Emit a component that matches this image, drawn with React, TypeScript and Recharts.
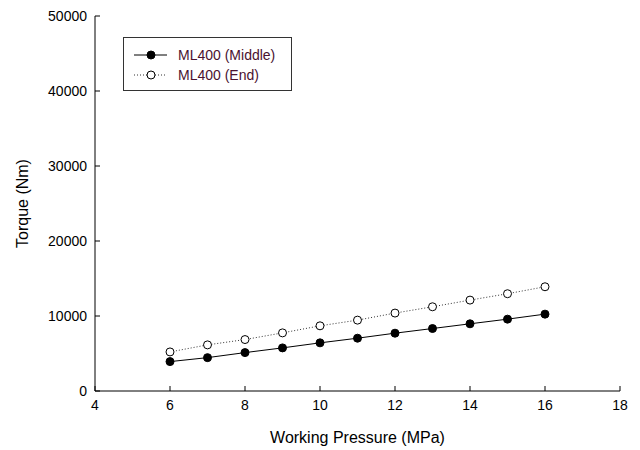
import React from 'react';
import { LineChart, Line, XAxis, YAxis, Legend } from 'recharts';

const pressure = [6, 7, 8, 9, 10, 11, 12, 13, 14, 15, 16];
const middleTorque = [3920, 4450, 5120, 5750, 6420, 7040, 7710, 8330, 8960, 9580, 10250];
const endTorque = [5210, 6150, 6860, 7750, 8690, 9450, 10390, 11230, 12120, 12970, 13900];
const xTicks = [4, 6, 8, 10, 12, 14, 16, 18];
const yTicks = [0, 10000, 20000, 30000, 40000, 50000];
const seriesNames = ['ML400 (Middle)', 'ML400 (End)'];

const data = pressure.map((p, i) => ({ p, middle: middleTorque[i], end: endTorque[i] }));

const FONT = '"Liberation Sans", Arial, sans-serif';

const LegendBox = () => (
  <div style={{ width: 169, height: 54, border: '1px solid #333', background: '#fff', boxSizing: 'border-box' }}>
    <svg width={167} height={52} style={{ display: 'block' }}>
      <line x1={10} y1={17} x2={43} y2={17} stroke="#000" strokeWidth={1} />
      <circle cx={27} cy={17} r={4} fill="#000" stroke="#000" />
      <text x={54} y={17} dy="0.35em" fontSize={14} fontFamily={FONT} fill="#4a1230">{seriesNames[0]}</text>
      <line x1={10} y1={37} x2={43} y2={37} stroke="#333" strokeWidth={1} strokeDasharray="1 2" />
      <circle cx={27} cy={37} r={4} fill="#fff" stroke="#000" />
      <text x={54} y={37} dy="0.35em" fontSize={14} fontFamily={FONT} fill="#4a1230">{seriesNames[1]}</text>
    </svg>
  </div>
);

export default function App() {
  return (
    <div style={{ position: 'absolute', left: 0, top: 0, background: '#fff' }}>
      <LineChart width={640} height={450} data={data} margin={{ top: 16, right: 20, left: 0, bottom: 0 }}>
        <XAxis
          dataKey="p"
          type="number"
          domain={[4, 18]}
          ticks={xTicks}
          height={59}
          stroke="#000"
          tickSize={-5}
          tickMargin={14}
          tick={{ fill: '#000', fontSize: 14, fontFamily: FONT }}
          label={{ value: 'Working Pressure (MPa)', position: 'center', dy: 17, fill: '#000', fontSize: 16, fontFamily: FONT }}
        />
        <XAxis xAxisId="top" orientation="top" type="number" domain={[4, 18]} height={0} tick={false} tickLine={false} stroke="#000" />
        <YAxis
          type="number"
          domain={[0, 50000]}
          ticks={yTicks}
          width={95}
          stroke="#000"
          tickSize={-5}
          tickMargin={13}
          tick={{ fill: '#000', fontSize: 14, fontFamily: FONT }}
          label={{ value: 'Torque (Nm)', angle: -90, position: 'center', dx: -25, fill: '#000', fontSize: 16, fontFamily: FONT }}
        />
        <YAxis yAxisId="right" orientation="right" type="number" domain={[0, 50000]} width={0} tick={false} tickLine={false} stroke="#000" />
        <Legend
          layout="horizontal"
          verticalAlign="middle"
          align="center"
          content={() => <LegendBox />}
          wrapperStyle={{ position: 'absolute', left: 123, top: 37, width: 169, height: 54 }}
        />
        <Line
          dataKey="middle"
          name={seriesNames[0]}
          stroke="#000"
          strokeWidth={1}
          dot={{ r: 4, fill: '#000', stroke: '#000', strokeWidth: 1 }}
          isAnimationActive={false}
        />
        <Line
          dataKey="end"
          name={seriesNames[1]}
          stroke="#333"
          strokeWidth={1}
          strokeDasharray="1 2"
          dot={{ r: 4, fill: '#fff', stroke: '#000', strokeWidth: 1, strokeDasharray: '' }}
          isAnimationActive={false}
        />
      </LineChart>
    </div>
  );
}
